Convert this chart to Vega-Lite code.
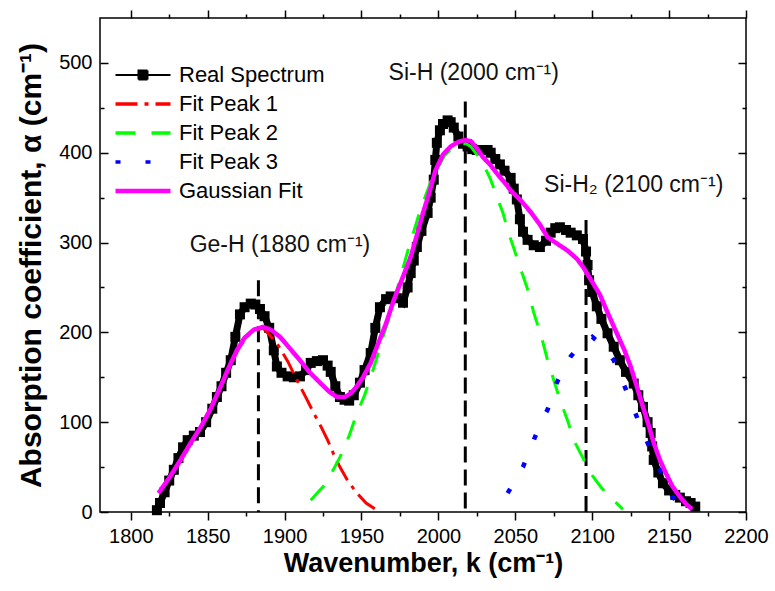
{
  "$schema": "https://vega.github.io/schema/vega-lite/v6.json",
  "width": 646,
  "height": 494,
  "autosize": "none",
  "padding": {"left": 100, "top": 18, "right": 29, "bottom": 79},
  "background": "white",
  "config": {
    "font": "Liberation Sans",
    "view": {"stroke": "black", "strokeWidth": 1.5},
    "axis": {"domain": false, "grid": false, "tickColor": "black", "tickWidth": 1.5, "labelColor": "black", "titleColor": "black", "labelFont": "Liberation Sans", "titleFont": "Liberation Sans", "labelFlush": false, "labelOverlap": false}
  },
  "datasets": {
    "curves": [
      {"series": "Real Spectrum", "k": 1817, "a": 2}, {"series": "Real Spectrum", "k": 1819, "a": 10}, {"series": "Real Spectrum", "k": 1822, "a": 22}, {"series": "Real Spectrum", "k": 1825, "a": 35}, {"series": "Real Spectrum", "k": 1828, "a": 47}, {"series": "Real Spectrum", "k": 1831, "a": 60}, {"series": "Real Spectrum", "k": 1834, "a": 72}, {"series": "Real Spectrum", "k": 1837, "a": 80}, {"series": "Real Spectrum", "k": 1841, "a": 85}, {"series": "Real Spectrum", "k": 1845, "a": 89}, {"series": "Real Spectrum", "k": 1849, "a": 100}, {"series": "Real Spectrum", "k": 1853, "a": 115}, {"series": "Real Spectrum", "k": 1856, "a": 128}, {"series": "Real Spectrum", "k": 1859, "a": 140}, {"series": "Real Spectrum", "k": 1862, "a": 155}, {"series": "Real Spectrum", "k": 1865, "a": 169}, {"series": "Real Spectrum", "k": 1868, "a": 195}, {"series": "Real Spectrum", "k": 1871, "a": 220}, {"series": "Real Spectrum", "k": 1874, "a": 228}, {"series": "Real Spectrum", "k": 1878, "a": 232}, {"series": "Real Spectrum", "k": 1881, "a": 231}, {"series": "Real Spectrum", "k": 1884, "a": 226}, {"series": "Real Spectrum", "k": 1887, "a": 218}, {"series": "Real Spectrum", "k": 1890, "a": 205}, {"series": "Real Spectrum", "k": 1893, "a": 180}, {"series": "Real Spectrum", "k": 1895, "a": 162}, {"series": "Real Spectrum", "k": 1898, "a": 155}, {"series": "Real Spectrum", "k": 1902, "a": 151}, {"series": "Real Spectrum", "k": 1906, "a": 150}, {"series": "Real Spectrum", "k": 1910, "a": 151}, {"series": "Real Spectrum", "k": 1914, "a": 158}, {"series": "Real Spectrum", "k": 1917, "a": 166}, {"series": "Real Spectrum", "k": 1921, "a": 168}, {"series": "Real Spectrum", "k": 1925, "a": 169}, {"series": "Real Spectrum", "k": 1928, "a": 163}, {"series": "Real Spectrum", "k": 1930, "a": 156}, {"series": "Real Spectrum", "k": 1933, "a": 140}, {"series": "Real Spectrum", "k": 1936, "a": 128}, {"series": "Real Spectrum", "k": 1939, "a": 125}, {"series": "Real Spectrum", "k": 1942, "a": 124}, {"series": "Real Spectrum", "k": 1945, "a": 130}, {"series": "Real Spectrum", "k": 1949, "a": 144}, {"series": "Real Spectrum", "k": 1952, "a": 158}, {"series": "Real Spectrum", "k": 1956, "a": 177}, {"series": "Real Spectrum", "k": 1959, "a": 205}, {"series": "Real Spectrum", "k": 1962, "a": 228}, {"series": "Real Spectrum", "k": 1966, "a": 237}, {"series": "Real Spectrum", "k": 1969, "a": 240}, {"series": "Real Spectrum", "k": 1973, "a": 238}, {"series": "Real Spectrum", "k": 1977, "a": 233}, {"series": "Real Spectrum", "k": 1980, "a": 250}, {"series": "Real Spectrum", "k": 1982, "a": 266}, {"series": "Real Spectrum", "k": 1984, "a": 280}, {"series": "Real Spectrum", "k": 1986, "a": 295}, {"series": "Real Spectrum", "k": 1989, "a": 313}, {"series": "Real Spectrum", "k": 1993, "a": 333}, {"series": "Real Spectrum", "k": 1995, "a": 350}, {"series": "Real Spectrum", "k": 1997, "a": 370}, {"series": "Real Spectrum", "k": 1998, "a": 392}, {"series": "Real Spectrum", "k": 1999, "a": 411}, {"series": "Real Spectrum", "k": 2001, "a": 425}, {"series": "Real Spectrum", "k": 2003, "a": 432}, {"series": "Real Spectrum", "k": 2006, "a": 436}, {"series": "Real Spectrum", "k": 2008, "a": 434}, {"series": "Real Spectrum", "k": 2010, "a": 428}, {"series": "Real Spectrum", "k": 2013, "a": 418}, {"series": "Real Spectrum", "k": 2016, "a": 410}, {"series": "Real Spectrum", "k": 2019, "a": 407}, {"series": "Real Spectrum", "k": 2022, "a": 404}, {"series": "Real Spectrum", "k": 2025, "a": 403}, {"series": "Real Spectrum", "k": 2029, "a": 403}, {"series": "Real Spectrum", "k": 2032, "a": 403}, {"series": "Real Spectrum", "k": 2034, "a": 400}, {"series": "Real Spectrum", "k": 2037, "a": 393}, {"series": "Real Spectrum", "k": 2040, "a": 387}, {"series": "Real Spectrum", "k": 2043, "a": 380}, {"series": "Real Spectrum", "k": 2047, "a": 372}, {"series": "Real Spectrum", "k": 2049, "a": 360}, {"series": "Real Spectrum", "k": 2051, "a": 348}, {"series": "Real Spectrum", "k": 2053, "a": 326}, {"series": "Real Spectrum", "k": 2055, "a": 312}, {"series": "Real Spectrum", "k": 2058, "a": 303}, {"series": "Real Spectrum", "k": 2062, "a": 297}, {"series": "Real Spectrum", "k": 2066, "a": 295}, {"series": "Real Spectrum", "k": 2070, "a": 302}, {"series": "Real Spectrum", "k": 2073, "a": 311}, {"series": "Real Spectrum", "k": 2076, "a": 316}, {"series": "Real Spectrum", "k": 2079, "a": 317}, {"series": "Real Spectrum", "k": 2083, "a": 314}, {"series": "Real Spectrum", "k": 2086, "a": 311}, {"series": "Real Spectrum", "k": 2090, "a": 308}, {"series": "Real Spectrum", "k": 2094, "a": 304}, {"series": "Real Spectrum", "k": 2096, "a": 290}, {"series": "Real Spectrum", "k": 2097, "a": 275}, {"series": "Real Spectrum", "k": 2098, "a": 258}, {"series": "Real Spectrum", "k": 2100, "a": 245}, {"series": "Real Spectrum", "k": 2103, "a": 229}, {"series": "Real Spectrum", "k": 2106, "a": 215}, {"series": "Real Spectrum", "k": 2110, "a": 199}, {"series": "Real Spectrum", "k": 2114, "a": 184}, {"series": "Real Spectrum", "k": 2118, "a": 169}, {"series": "Real Spectrum", "k": 2122, "a": 156}, {"series": "Real Spectrum", "k": 2127, "a": 143}, {"series": "Real Spectrum", "k": 2130, "a": 130}, {"series": "Real Spectrum", "k": 2133, "a": 117}, {"series": "Real Spectrum", "k": 2136, "a": 100}, {"series": "Real Spectrum", "k": 2138, "a": 88}, {"series": "Real Spectrum", "k": 2139, "a": 73}, {"series": "Real Spectrum", "k": 2140, "a": 58}, {"series": "Real Spectrum", "k": 2143, "a": 44}, {"series": "Real Spectrum", "k": 2146, "a": 32}, {"series": "Real Spectrum", "k": 2150, "a": 24}, {"series": "Real Spectrum", "k": 2154, "a": 19}, {"series": "Real Spectrum", "k": 2157, "a": 16}, {"series": "Real Spectrum", "k": 2161, "a": 12}, {"series": "Real Spectrum", "k": 2164, "a": 10}, {"series": "Real Spectrum", "k": 2167, "a": 6},

      {"series": "Fit Peak 1", "k": 1830, "a": 50}, {"series": "Fit Peak 1", "k": 1845, "a": 93}, {"series": "Fit Peak 1", "k": 1860, "a": 145}, {"series": "Fit Peak 1", "k": 1870, "a": 182}, {"series": "Fit Peak 1", "k": 1878, "a": 200}, {"series": "Fit Peak 1", "k": 1886, "a": 205}, {"series": "Fit Peak 1", "k": 1895, "a": 188}, {"series": "Fit Peak 1", "k": 1902, "a": 168}, {"series": "Fit Peak 1", "k": 1908, "a": 147}, {"series": "Fit Peak 1", "k": 1914, "a": 127}, {"series": "Fit Peak 1", "k": 1919, "a": 110}, {"series": "Fit Peak 1", "k": 1924, "a": 94}, {"series": "Fit Peak 1", "k": 1928, "a": 80}, {"series": "Fit Peak 1", "k": 1932, "a": 64}, {"series": "Fit Peak 1", "k": 1936, "a": 50}, {"series": "Fit Peak 1", "k": 1941, "a": 35}, {"series": "Fit Peak 1", "k": 1947, "a": 21}, {"series": "Fit Peak 1", "k": 1953, "a": 10}, {"series": "Fit Peak 1", "k": 1960, "a": 2},

      {"series": "Fit Peak 2", "k": 1917, "a": 13}, {"series": "Fit Peak 2", "k": 1927, "a": 32}, {"series": "Fit Peak 2", "k": 1936, "a": 61}, {"series": "Fit Peak 2", "k": 1942, "a": 85}, {"series": "Fit Peak 2", "k": 1947, "a": 110}, {"series": "Fit Peak 2", "k": 1952, "a": 130}, {"series": "Fit Peak 2", "k": 1956, "a": 150}, {"series": "Fit Peak 2", "k": 1960, "a": 172}, {"series": "Fit Peak 2", "k": 1964, "a": 195}, {"series": "Fit Peak 2", "k": 1969, "a": 222}, {"series": "Fit Peak 2", "k": 1973, "a": 247}, {"series": "Fit Peak 2", "k": 1980, "a": 290}, {"series": "Fit Peak 2", "k": 1988, "a": 335}, {"series": "Fit Peak 2", "k": 1996, "a": 372}, {"series": "Fit Peak 2", "k": 2004, "a": 397}, {"series": "Fit Peak 2", "k": 2012, "a": 410}, {"series": "Fit Peak 2", "k": 2018, "a": 410}, {"series": "Fit Peak 2", "k": 2021, "a": 407}, {"series": "Fit Peak 2", "k": 2025, "a": 398}, {"series": "Fit Peak 2", "k": 2029, "a": 388}, {"series": "Fit Peak 2", "k": 2034, "a": 370}, {"series": "Fit Peak 2", "k": 2038, "a": 351}, {"series": "Fit Peak 2", "k": 2042, "a": 333}, {"series": "Fit Peak 2", "k": 2045, "a": 314}, {"series": "Fit Peak 2", "k": 2049, "a": 294}, {"series": "Fit Peak 2", "k": 2053, "a": 273}, {"series": "Fit Peak 2", "k": 2058, "a": 248}, {"series": "Fit Peak 2", "k": 2062, "a": 222}, {"series": "Fit Peak 2", "k": 2067, "a": 195}, {"series": "Fit Peak 2", "k": 2071, "a": 169}, {"series": "Fit Peak 2", "k": 2075, "a": 147}, {"series": "Fit Peak 2", "k": 2079, "a": 125}, {"series": "Fit Peak 2", "k": 2084, "a": 102}, {"series": "Fit Peak 2", "k": 2088, "a": 80}, {"series": "Fit Peak 2", "k": 2094, "a": 60}, {"series": "Fit Peak 2", "k": 2099, "a": 43}, {"series": "Fit Peak 2", "k": 2106, "a": 27}, {"series": "Fit Peak 2", "k": 2114, "a": 13}, {"series": "Fit Peak 2", "k": 2120, "a": 3},

      {"series": "Fit Peak 3", "k": 2045, "a": 21}, {"series": "Fit Peak 3", "k": 2050, "a": 35}, {"series": "Fit Peak 3", "k": 2055, "a": 50}, {"series": "Fit Peak 3", "k": 2062, "a": 80}, {"series": "Fit Peak 3", "k": 2066, "a": 97}, {"series": "Fit Peak 3", "k": 2071, "a": 114}, {"series": "Fit Peak 3", "k": 2077, "a": 144}, {"series": "Fit Peak 3", "k": 2081, "a": 158}, {"series": "Fit Peak 3", "k": 2086, "a": 173}, {"series": "Fit Peak 3", "k": 2093, "a": 188}, {"series": "Fit Peak 3", "k": 2100, "a": 195}, {"series": "Fit Peak 3", "k": 2107, "a": 185}, {"series": "Fit Peak 3", "k": 2114, "a": 169}, {"series": "Fit Peak 3", "k": 2118, "a": 153}, {"series": "Fit Peak 3", "k": 2122, "a": 136}, {"series": "Fit Peak 3", "k": 2129, "a": 106}, {"series": "Fit Peak 3", "k": 2132, "a": 92}, {"series": "Fit Peak 3", "k": 2136, "a": 77}, {"series": "Fit Peak 3", "k": 2140, "a": 62}, {"series": "Fit Peak 3", "k": 2144, "a": 47}, {"series": "Fit Peak 3", "k": 2148, "a": 32}, {"series": "Fit Peak 3", "k": 2152, "a": 17}, {"series": "Fit Peak 3", "k": 2157, "a": 9}, {"series": "Fit Peak 3", "k": 2162, "a": 4},

      {"series": "Gaussian Fit", "k": 1818, "a": 21}, {"series": "Gaussian Fit", "k": 1825, "a": 38}, {"series": "Gaussian Fit", "k": 1832, "a": 57}, {"series": "Gaussian Fit", "k": 1839, "a": 77}, {"series": "Gaussian Fit", "k": 1846, "a": 96}, {"series": "Gaussian Fit", "k": 1852, "a": 115}, {"series": "Gaussian Fit", "k": 1858, "a": 138}, {"series": "Gaussian Fit", "k": 1864, "a": 162}, {"series": "Gaussian Fit", "k": 1869, "a": 180}, {"series": "Gaussian Fit", "k": 1874, "a": 194}, {"series": "Gaussian Fit", "k": 1880, "a": 203}, {"series": "Gaussian Fit", "k": 1886, "a": 206}, {"series": "Gaussian Fit", "k": 1891, "a": 203}, {"series": "Gaussian Fit", "k": 1897, "a": 195}, {"series": "Gaussian Fit", "k": 1903, "a": 183}, {"series": "Gaussian Fit", "k": 1910, "a": 169}, {"series": "Gaussian Fit", "k": 1916, "a": 156}, {"series": "Gaussian Fit", "k": 1923, "a": 144}, {"series": "Gaussian Fit", "k": 1929, "a": 134}, {"series": "Gaussian Fit", "k": 1934, "a": 128}, {"series": "Gaussian Fit", "k": 1939, "a": 128}, {"series": "Gaussian Fit", "k": 1943, "a": 132}, {"series": "Gaussian Fit", "k": 1947, "a": 140}, {"series": "Gaussian Fit", "k": 1951, "a": 150}, {"series": "Gaussian Fit", "k": 1956, "a": 166}, {"series": "Gaussian Fit", "k": 1960, "a": 184}, {"series": "Gaussian Fit", "k": 1966, "a": 210}, {"series": "Gaussian Fit", "k": 1971, "a": 236}, {"series": "Gaussian Fit", "k": 1977, "a": 262}, {"series": "Gaussian Fit", "k": 1982, "a": 284}, {"series": "Gaussian Fit", "k": 1986, "a": 308}, {"series": "Gaussian Fit", "k": 1990, "a": 333}, {"series": "Gaussian Fit", "k": 1994, "a": 355}, {"series": "Gaussian Fit", "k": 1998, "a": 380}, {"series": "Gaussian Fit", "k": 2003, "a": 398}, {"series": "Gaussian Fit", "k": 2008, "a": 407}, {"series": "Gaussian Fit", "k": 2013, "a": 412}, {"series": "Gaussian Fit", "k": 2017, "a": 414}, {"series": "Gaussian Fit", "k": 2021, "a": 413}, {"series": "Gaussian Fit", "k": 2025, "a": 405}, {"series": "Gaussian Fit", "k": 2029, "a": 395}, {"series": "Gaussian Fit", "k": 2034, "a": 386}, {"series": "Gaussian Fit", "k": 2038, "a": 377}, {"series": "Gaussian Fit", "k": 2043, "a": 367}, {"series": "Gaussian Fit", "k": 2047, "a": 358}, {"series": "Gaussian Fit", "k": 2053, "a": 348}, {"series": "Gaussian Fit", "k": 2060, "a": 334}, {"series": "Gaussian Fit", "k": 2066, "a": 320}, {"series": "Gaussian Fit", "k": 2071, "a": 306}, {"series": "Gaussian Fit", "k": 2077, "a": 299}, {"series": "Gaussian Fit", "k": 2084, "a": 291}, {"series": "Gaussian Fit", "k": 2090, "a": 282}, {"series": "Gaussian Fit", "k": 2094, "a": 273}, {"series": "Gaussian Fit", "k": 2099, "a": 259}, {"series": "Gaussian Fit", "k": 2105, "a": 242}, {"series": "Gaussian Fit", "k": 2110, "a": 222}, {"series": "Gaussian Fit", "k": 2116, "a": 199}, {"series": "Gaussian Fit", "k": 2121, "a": 180}, {"series": "Gaussian Fit", "k": 2125, "a": 162}, {"series": "Gaussian Fit", "k": 2129, "a": 140}, {"series": "Gaussian Fit", "k": 2133, "a": 117}, {"series": "Gaussian Fit", "k": 2137, "a": 95}, {"series": "Gaussian Fit", "k": 2140, "a": 77}, {"series": "Gaussian Fit", "k": 2144, "a": 58}, {"series": "Gaussian Fit", "k": 2148, "a": 43}, {"series": "Gaussian Fit", "k": 2152, "a": 29}, {"series": "Gaussian Fit", "k": 2157, "a": 17}, {"series": "Gaussian Fit", "k": 2161, "a": 9}, {"series": "Gaussian Fit", "k": 2165, "a": 3}
    ],
    "vlines": [
      {"k": 1883, "top": 258},
      {"k": 2017.5, "top": 457},
      {"k": 2096, "top": 325}
    ],
    "labels": [
      {"k": 1897, "a": 297, "label": "Ge-H (1880 cm⁻¹)"},
      {"k": 2023, "a": 489, "label": "Si-H (2000 cm⁻¹)"},
      {"k": 2127, "a": 364, "label": "Si-H₂ (2100 cm⁻¹)"}
    ]
  },
  "resolve": {"axis": {"x": "independent", "y": "independent"}},
  "layer": [
    {
      "data": {"name": "curves"},
      "transform": [{"filter": "datum.series === 'Real Spectrum'"}],
      "mark": {"type": "line", "strokeWidth": 7, "strokeJoin": "miter"},
      "encoding": {
        "x": {"field": "k", "type": "quantitative", "scale": {"domain": [1780, 2200], "nice": false, "zero": false},
          "axis": {"orient": "bottom", "values": [1800, 1850, 1900, 1950, 2000, 2050, 2100, 2150, 2200], "tickSize": 8, "labelFontSize": 20, "labelPadding": 6, "format": "d", "title": "Wavenumber, k (cm⁻¹)", "titleFontSize": 27, "titleFontWeight": "bold", "titlePadding": 4}},
        "y": {"field": "a", "type": "quantitative", "scale": {"domain": [0, 550], "nice": false, "zero": false},
          "axis": {"orient": "left", "values": [0, 100, 200, 300, 400, 500], "ticks": false, "labelPadding": 8, "labelFontSize": 20, "format": "d", "title": "Absorption coefficient, α (cm⁻¹)", "titleFontSize": 30, "titleFontWeight": "bold", "titlePadding": 12}},
        "color": {"field": "series", "type": "nominal",
          "scale": {"domain": ["Real Spectrum", "Fit Peak 1", "Fit Peak 2", "Fit Peak 3", "Gaussian Fit"], "range": ["#000000", "#ff0000", "#00ff00", "#0000ff", "#ff00ff"]},
          "legend": {"title": null, "orient": "none", "legendX": 32, "legendY": 46, "padding": 0, "symbolType": "M-2.75,0H2.75", "symbolSize": 400, "labelFontSize": 22, "labelFont": "Liberation Sans", "labelColor": "black", "labelOffset": 25, "rowPadding": 7, "labelLimit": 300,
            "encode": {"symbols": {"update": {
              "shape": {"signal": "datum.value === 'Real Spectrum' ? 'M-2.75,0H2.75M-0.45,-0.45H0.45V0.45H-0.45Z' : 'M-2.75,0H2.75'"},
              "fill": {"signal": "datum.value === 'Real Spectrum' ? 'black' : 'transparent'"},
              "strokeWidth": {"signal": "datum.value === 'Gaussian Fit' ? 4.5 : (datum.value === 'Real Spectrum' ? 2 : 3.5)"}
            }}}}},
        "strokeDash": {"field": "series", "type": "nominal",
          "scale": {"domain": ["Real Spectrum", "Fit Peak 1", "Fit Peak 2", "Fit Peak 3", "Gaussian Fit"], "range": [[1, 0], [22, 7, 4, 7], [20, 16], [5, 25], [1, 0]]},
          "legend": {"title": null, "orient": "none", "legendX": 32, "legendY": 46, "padding": 0, "symbolType": "M-2.75,0H2.75", "symbolSize": 400, "labelFontSize": 22, "labelFont": "Liberation Sans", "labelColor": "black", "labelOffset": 25, "rowPadding": 7, "labelLimit": 300,
            "encode": {"symbols": {"update": {
              "shape": {"signal": "datum.value === 'Real Spectrum' ? 'M-2.75,0H2.75M-0.45,-0.45H0.45V0.45H-0.45Z' : 'M-2.75,0H2.75'"},
              "fill": {"signal": "datum.value === 'Real Spectrum' ? 'black' : 'transparent'"},
              "strokeWidth": {"signal": "datum.value === 'Gaussian Fit' ? 4.5 : (datum.value === 'Real Spectrum' ? 2 : 3.5)"}
            }}}}}
      }
    },
    {
      "data": {"name": "curves"},
      "transform": [{"filter": "datum.series === 'Real Spectrum'"}],
      "mark": {"type": "point", "shape": "square", "filled": true, "size": 100, "color": "black", "opacity": 1},
      "encoding": {
        "x": {"field": "k", "type": "quantitative", "scale": {"domain": [1780, 2200], "nice": false, "zero": false},
          "axis": {"orient": "bottom", "values": [1825, 1875, 1925, 1975, 2025, 2075, 2125, 2175], "tickSize": 4, "labels": false, "title": null}},
        "y": {"field": "a", "type": "quantitative", "scale": {"domain": [0, 550], "nice": false, "zero": false},
          "axis": {"orient": "left", "values": [0, 100, 200, 300, 400, 500], "tickSize": -8, "labels": false, "title": null}}
      }
    },
    {
      "data": {"name": "vlines"},
      "mark": {"type": "rule", "color": "black", "strokeWidth": 3, "strokeDash": [16, 7]},
      "encoding": {
        "x": {"field": "k", "type": "quantitative", "scale": {"domain": [1780, 2200], "nice": false, "zero": false},
          "axis": {"orient": "top", "values": [1800, 1850, 1900, 1950, 2000, 2050, 2100, 2150, 2200], "tickSize": 8, "labels": false, "title": null}},
        "y": {"field": "top", "type": "quantitative", "scale": {"domain": [0, 550], "nice": false, "zero": false},
          "axis": {"orient": "left", "values": [50, 150, 250, 350, 450], "tickSize": -4, "labels": false, "title": null}},
        "y2": {"datum": 0}
      }
    },
    {
      "data": {"name": "curves"},
      "transform": [{"filter": "datum.series === 'Fit Peak 1'"}],
      "mark": {"type": "line", "strokeWidth": 3},
      "encoding": {
        "x": {"field": "k", "type": "quantitative", "scale": {"domain": [1780, 2200], "nice": false, "zero": false},
          "axis": {"orient": "top", "values": [1825, 1875, 1925, 1975, 2025, 2075, 2125, 2175], "tickSize": 4, "labels": false, "title": null}},
        "y": {"field": "a", "type": "quantitative", "scale": {"domain": [0, 550], "nice": false, "zero": false},
          "axis": {"orient": "right", "values": [0, 100, 200, 300, 400, 500], "tickSize": -8, "labels": false, "title": null}},
        "color": {"field": "series", "type": "nominal", "scale": {"domain": ["Real Spectrum", "Fit Peak 1", "Fit Peak 2", "Fit Peak 3", "Gaussian Fit"], "range": ["#000000", "#ff0000", "#00ff00", "#0000ff", "#ff00ff"]}},
        "strokeDash": {"field": "series", "type": "nominal", "scale": {"domain": ["Real Spectrum", "Fit Peak 1", "Fit Peak 2", "Fit Peak 3", "Gaussian Fit"], "range": [[1, 0], [22, 7, 4, 7], [20, 16], [5, 25], [1, 0]]}}
      }
    },
    {
      "data": {"name": "curves"},
      "transform": [{"filter": "datum.series === 'Fit Peak 2'"}],
      "mark": {"type": "line", "strokeWidth": 3},
      "encoding": {
        "x": {"field": "k", "type": "quantitative", "scale": {"domain": [1780, 2200], "nice": false, "zero": false}, "axis": null},
        "y": {"field": "a", "type": "quantitative", "scale": {"domain": [0, 550], "nice": false, "zero": false},
          "axis": {"orient": "right", "values": [50, 150, 250, 350, 450], "tickSize": -4, "labels": false, "title": null}},
        "color": {"field": "series", "type": "nominal", "scale": {"domain": ["Real Spectrum", "Fit Peak 1", "Fit Peak 2", "Fit Peak 3", "Gaussian Fit"], "range": ["#000000", "#ff0000", "#00ff00", "#0000ff", "#ff00ff"]}},
        "strokeDash": {"field": "series", "type": "nominal", "scale": {"domain": ["Real Spectrum", "Fit Peak 1", "Fit Peak 2", "Fit Peak 3", "Gaussian Fit"], "range": [[1, 0], [22, 7, 4, 7], [20, 16], [5, 25], [1, 0]]}}
      }
    },
    {
      "data": {"name": "curves"},
      "transform": [{"filter": "datum.series === 'Fit Peak 3'"}],
      "mark": {"type": "line", "strokeWidth": 4.5},
      "encoding": {
        "x": {"field": "k", "type": "quantitative", "scale": {"domain": [1780, 2200], "nice": false, "zero": false}, "axis": null},
        "y": {"field": "a", "type": "quantitative", "scale": {"domain": [0, 550], "nice": false, "zero": false}, "axis": null},
        "color": {"field": "series", "type": "nominal", "scale": {"domain": ["Real Spectrum", "Fit Peak 1", "Fit Peak 2", "Fit Peak 3", "Gaussian Fit"], "range": ["#000000", "#ff0000", "#00ff00", "#0000ff", "#ff00ff"]}},
        "strokeDash": {"field": "series", "type": "nominal", "scale": {"domain": ["Real Spectrum", "Fit Peak 1", "Fit Peak 2", "Fit Peak 3", "Gaussian Fit"], "range": [[1, 0], [22, 7, 4, 7], [20, 16], [5, 25], [1, 0]]}}
      }
    },
    {
      "data": {"name": "curves"},
      "transform": [{"filter": "datum.series === 'Gaussian Fit'"}],
      "mark": {"type": "line", "strokeWidth": 4.5},
      "encoding": {
        "x": {"field": "k", "type": "quantitative", "scale": {"domain": [1780, 2200], "nice": false, "zero": false}, "axis": null},
        "y": {"field": "a", "type": "quantitative", "scale": {"domain": [0, 550], "nice": false, "zero": false}, "axis": null},
        "color": {"field": "series", "type": "nominal", "scale": {"domain": ["Real Spectrum", "Fit Peak 1", "Fit Peak 2", "Fit Peak 3", "Gaussian Fit"], "range": ["#000000", "#ff0000", "#00ff00", "#0000ff", "#ff00ff"]}},
        "strokeDash": {"field": "series", "type": "nominal", "scale": {"domain": ["Real Spectrum", "Fit Peak 1", "Fit Peak 2", "Fit Peak 3", "Gaussian Fit"], "range": [[1, 0], [22, 7, 4, 7], [20, 16], [5, 25], [1, 0]]}}
      }
    },
    {
      "data": {"name": "labels"},
      "mark": {"type": "text", "fontSize": 23, "font": "Liberation Sans", "color": "#111111", "align": "center", "baseline": "middle"},
      "encoding": {
        "x": {"field": "k", "type": "quantitative", "scale": {"domain": [1780, 2200], "nice": false, "zero": false}, "axis": null},
        "y": {"field": "a", "type": "quantitative", "scale": {"domain": [0, 550], "nice": false, "zero": false}, "axis": null},
        "text": {"field": "label"}
      }
    }
  ]
}
